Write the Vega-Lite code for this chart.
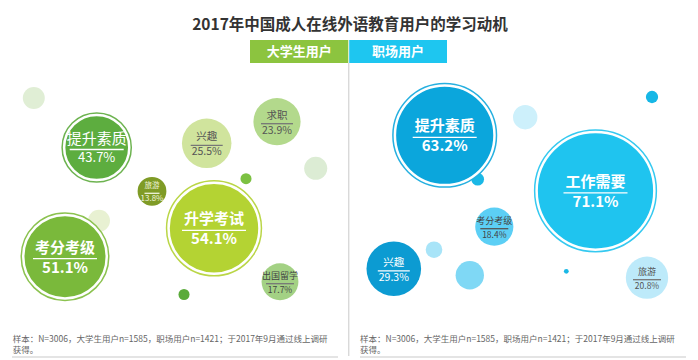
{
  "$schema": "https://vega.github.io/schema/vega-lite/v6.json",
  "width": 698,
  "height": 360,
  "autosize": {"type": "fit", "contains": "padding"},
  "padding": 0,
  "background": "white",
  "config": {"view": {"stroke": null}, "font": "Noto Sans CJK SC"},
  "datasets": {
    "bubbles": [
      {"panel": "大学生用户", "id": "L提升素质", "name": "提升素质", "value": 0.437, "x": 96.7, "y": 147.5},
      {"panel": "大学生用户", "id": "L兴趣", "name": "兴趣", "value": 0.255, "x": 206.7, "y": 143.3},
      {"panel": "大学生用户", "id": "L求职", "name": "求职", "value": 0.239, "x": 277, "y": 121.7},
      {"panel": "大学生用户", "id": "L旅游", "name": "旅游", "value": 0.138, "x": 152, "y": 191.3},
      {"panel": "大学生用户", "id": "L考分考级", "name": "考分考级", "value": 0.511, "x": 65, "y": 256.7},
      {"panel": "大学生用户", "id": "L升学考试", "name": "升学考试", "value": 0.541, "x": 214, "y": 228.3},
      {"panel": "大学生用户", "id": "L出国留学", "name": "出国留学", "value": 0.177, "x": 280, "y": 281.7},
      {"panel": "职场用户", "id": "R提升素质", "name": "提升素质", "value": 0.632, "x": 444.7, "y": 135.3},
      {"panel": "职场用户", "id": "R工作需要", "name": "工作需要", "value": 0.711, "x": 595.5, "y": 190.8},
      {"panel": "职场用户", "id": "R考分考级", "name": "考分考级", "value": 0.184, "x": 494.3, "y": 226.7},
      {"panel": "职场用户", "id": "R兴趣", "name": "兴趣", "value": 0.293, "x": 393.8, "y": 268.8},
      {"panel": "职场用户", "id": "R旅游", "name": "旅游", "value": 0.208, "x": 647, "y": 277.7}
    ],
    "dots": [
      {"id": "d1", "weight": 0.103, "x": 33.8, "y": 98},
      {"id": "d2", "weight": 0.109, "x": 315.7, "y": 168.3},
      {"id": "d3", "weight": 0.047, "x": 246, "y": 178.7},
      {"id": "d4", "weight": 0.103, "x": 99, "y": 220.7},
      {"id": "d5", "weight": 0.047, "x": 184, "y": 294.5},
      {"id": "d6", "weight": 0.053, "x": 652, "y": 97},
      {"id": "d7", "weight": 0.116, "x": 525.2, "y": 117.2},
      {"id": "d8", "weight": 0.055, "x": 477.7, "y": 179.2},
      {"id": "d9", "weight": 0.075, "x": 434, "y": 249.7},
      {"id": "d10", "weight": 0.138, "x": 469.8, "y": 275.2},
      {"id": "d11", "weight": 0.018, "x": 566.3, "y": 271.3}
    ],
    "boxes": [
      {"id": "大学生用户", "x": 250, "x2": 348.3, "y": 40, "y2": 63},
      {"id": "职场用户", "x": 349.2, "x2": 447, "y": 40, "y2": 63}
    ],
    "texts": [
      {"kind": "title", "text": "2017年中国成人在线外语教育用户的学习动机", "x": 350, "y": 25},
      {"kind": "header", "text": "大学生用户", "x": 299.2, "y": 51.5},
      {"kind": "header", "text": "职场用户", "x": 398.1, "y": 51.5}
    ],
    "lines": [
      {"x": 348.8, "y": 63, "x2": 348.8, "y2": 356},
      {"x": 12, "y": 357, "x2": 338, "y2": 357},
      {"x": 360, "y": 357, "x2": 686, "y2": 357}
    ],
    "notes": [
      {"text": "样本：N=3006，大学生用户n=1585，职场用户n=1421；于2017年9月通过线上调研\n获得。", "x": 12.7, "y": 334.5},
      {"text": "样本：N=3006，大学生用户n=1585，职场用户n=1421；于2017年9月通过线上调研\n获得。", "x": 360, "y": 334.5}
    ]
  },
  "encoding": {
    "x": {"field": "x", "type": "quantitative", "scale": {"domain": [0, 698], "nice": false, "zero": false}, "axis": null},
    "y": {"field": "y", "type": "quantitative", "scale": {"domain": [0, 360], "nice": false, "zero": false, "reverse": true}, "axis": null}
  },
  "layer": [
    {
      "data": {"name": "lines"},
      "mark": {"type": "rule", "color": "#c9c9c9", "strokeWidth": 1},
      "encoding": {"x2": {"field": "x2"}, "y2": {"field": "y2"}}
    },
    {
      "data": {"name": "boxes"},
      "mark": {"type": "rect"},
      "encoding": {
        "x2": {"field": "x2"},
        "y2": {"field": "y2"},
        "color": {"field": "id", "type": "nominal", "scale": {"domain": ["大学生用户", "职场用户"], "range": ["#8cc43f", "#1ec6f0"]}, "legend": null}
      }
    },
    {
      "data": {"name": "texts"},
      "transform": [{"filter": "datum.kind === 'title'"}],
      "mark": {"type": "text", "fontSize": 15.5, "fontWeight": "bold", "color": "#333333", "align": "center", "baseline": "middle"},
      "encoding": {"text": {"field": "text"}}
    },
    {
      "data": {"name": "texts"},
      "transform": [{"filter": "datum.kind === 'header'"}],
      "mark": {"type": "text", "fontSize": 13, "fontWeight": "bold", "color": "#ffffff", "align": "center", "baseline": "middle"},
      "encoding": {"text": {"field": "text"}}
    },
    {
      "data": {"name": "dots"},
      "mark": {"type": "circle", "opacity": 1},
      "encoding": {
        "size": {"field": "weight", "type": "quantitative", "scale": {"type": "pow", "exponent": 1.75, "domain": [0, 1], "range": [0, 25740]}, "legend": null},
        "color": {"field": "id", "type": "nominal", "scale": {"domain": ["d1", "d2", "d3", "d4", "d5", "d6", "d7", "d8", "d9", "d10", "d11"], "range": ["#e0eed5", "#dcecd4", "#7cc142", "#e8f1d2", "#5aab3a", "#16b7e6", "#cdf0fb", "#1ab8e6", "#a8e4f8", "#7fd8f5", "#1ab8e6"]}, "legend": null}
      }
    },
    {
      "data": {"name": "bubbles"},
      "transform": [{"filter": "datum.value >= 0.4"}],
      "mark": {"type": "circle", "opacity": 1, "strokeWidth": 5.5},
      "encoding": {
        "size": {"field": "value", "type": "quantitative", "scale": {"type": "linear", "domain": [0, 0.14, 0.3, 0.45, 0.55, 0.65, 0.72], "range": [0, 841, 3080, 4356, 8649, 10201, 14400]}, "legend": null},
        "color": {"field": "id", "type": "nominal", "scale": {"domain": ["L提升素质", "L考分考级", "L升学考试", "R提升素质", "R工作需要"], "range": ["#5dad3f", "#7ab93b", "#b4d333", "#0ba6dc", "#1fc4ef"]}, "legend": null},
        "stroke": {"field": "id", "type": "nominal", "scale": {"domain": ["L提升素质", "L考分考级", "L升学考试", "R提升素质", "R工作需要"], "range": ["#6db350", "#8bc24f", "#bad647", "#26b0e0", "#35c9f0"]}, "legend": null}
      }
    },
    {
      "data": {"name": "bubbles"},
      "mark": {"type": "circle", "opacity": 1, "stroke": "#ffffff", "strokeWidth": 2.5},
      "transform": [{"filter": "datum.value >= 0.4"}],
      "encoding": {
        "size": {"field": "value", "type": "quantitative", "scale": {"type": "linear", "domain": [0, 0.14, 0.3, 0.45, 0.55, 0.65, 0.72], "range": [0, 841, 3080, 4356, 8649, 10201, 14400]}, "legend": null},
        "color": {"field": "id", "type": "nominal", "scale": {"domain": ["L提升素质", "L考分考级", "L升学考试", "R提升素质", "R工作需要"], "range": ["#5dad3f", "#7ab93b", "#b4d333", "#0ba6dc", "#1fc4ef"]}, "legend": null}
      }
    },
    {
      "data": {"name": "bubbles"},
      "transform": [{"filter": "datum.value < 0.4"}],
      "mark": {"type": "circle", "opacity": 1},
      "encoding": {
        "size": {"field": "value", "type": "quantitative", "scale": {"type": "linear", "domain": [0, 0.14, 0.3, 0.45, 0.55, 0.65, 0.72], "range": [0, 841, 3080, 4356, 8649, 10201, 14400]}, "legend": null},
        "color": {"field": "id", "type": "nominal", "scale": {"domain": ["L兴趣", "L求职", "L旅游", "L出国留学", "R考分考级", "R兴趣", "R旅游"], "range": ["#d0e49d", "#b3d98c", "#7f9b26", "#a3d184", "#5ccff5", "#0c9bd2", "#bdeafa"]}, "legend": null}
      }
    },
    {
      "data": {"name": "bubbles"},
      "mark": {"type": "tick", "orient": "horizontal", "thickness": 1.3, "opacity": 1, "yOffset": 2},
      "encoding": {
        "size": {"field": "value", "type": "quantitative", "scale": {"type": "threshold", "domain": [0.15, 0.21, 0.4, 0.5], "range": [15, 28, 32, 54, 64]}, "legend": null},
        "color": {"field": "id", "type": "nominal", "scale": {"domain": ["L提升素质", "L考分考级", "L升学考试", "L旅游", "L兴趣", "L求职", "L出国留学", "R提升素质", "R工作需要", "R兴趣", "R考分考级", "R旅游"], "range": ["#ffffff", "#ffffff", "#ffffff", "#f0f4dc", "#777777", "#777777", "#777777", "#ffffff", "#ffffff", "#ffffff", "#555555", "#777777"]}, "legend": null}
      }
    },
    {
      "data": {"name": "bubbles"},
      "transform": [{"filter": "datum.value < 0.5"}],
      "mark": {"type": "text", "align": "center", "baseline": "bottom", "dy": -1},
      "encoding": {
        "text": {"field": "name"},
        "size": {"field": "value", "type": "quantitative", "scale": {"type": "threshold", "domain": [0.15, 0.21, 0.4], "range": [7.5, 9, 10.5, 15]}, "legend": null},
        "color": {"field": "id", "type": "nominal", "scale": {"domain": ["L提升素质", "L旅游", "L兴趣", "L求职", "L出国留学", "R兴趣", "R考分考级", "R旅游"], "range": ["#ffffff", "#f0f4dc", "#555555", "#555555", "#444444", "#ffffff", "#444444", "#555555"]}, "legend": null}
      }
    },
    {
      "data": {"name": "bubbles"},
      "transform": [{"filter": "datum.value < 0.5"}],
      "mark": {"type": "text", "align": "center", "baseline": "top", "dy": 4},
      "encoding": {
        "text": {"field": "value", "type": "quantitative", "format": ".1%"},
        "size": {"field": "value", "type": "quantitative", "scale": {"type": "threshold", "domain": [0.15, 0.21, 0.4], "range": [8, 8.5, 10.5, 13]}, "legend": null},
        "color": {"field": "id", "type": "nominal", "scale": {"domain": ["L提升素质", "L旅游", "L兴趣", "L求职", "L出国留学", "R兴趣", "R考分考级", "R旅游"], "range": ["#ffffff", "#f0f4dc", "#555555", "#555555", "#444444", "#ffffff", "#444444", "#555555"]}, "legend": null}
      }
    },
    {
      "data": {"name": "bubbles"},
      "transform": [{"filter": "datum.value >= 0.5"}],
      "mark": {"type": "text", "align": "center", "baseline": "bottom", "dy": -1, "fontSize": 15, "fontWeight": "bold", "color": "#ffffff"},
      "encoding": {"text": {"field": "name"}}
    },
    {
      "data": {"name": "bubbles"},
      "transform": [{"filter": "datum.value >= 0.5"}],
      "mark": {"type": "text", "align": "center", "baseline": "top", "dy": 4, "fontSize": 15, "fontWeight": "bold", "color": "#ffffff"},
      "encoding": {"text": {"field": "value", "type": "quantitative", "format": ".1%"}}
    },
    {
      "data": {"name": "notes"},
      "mark": {"type": "text", "align": "left", "baseline": "top", "fontSize": 8.5, "lineHeight": 11, "lineBreak": "\n", "color": "#666666"},
      "encoding": {"text": {"field": "text"}}
    }
  ],
  "resolve": {"scale": {"color": "independent", "size": "independent", "stroke": "independent"}}
}
